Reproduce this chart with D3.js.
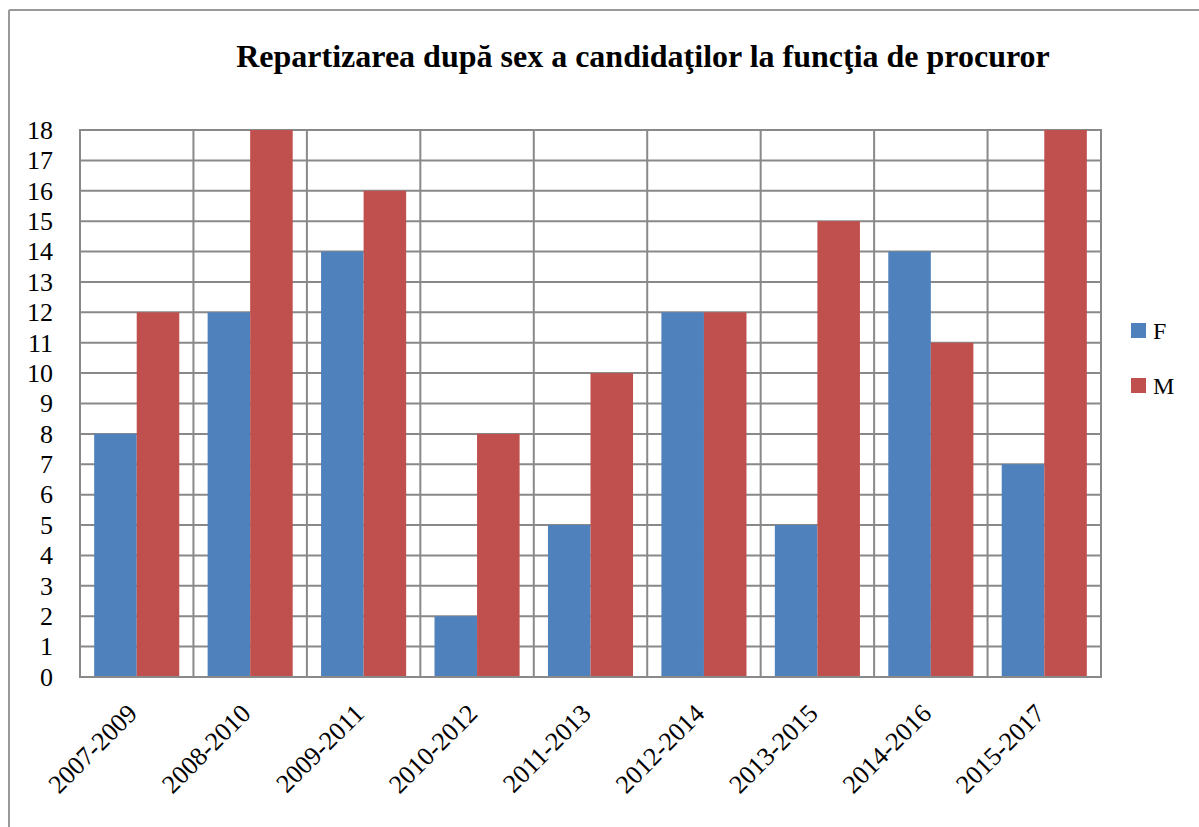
<!DOCTYPE html>
<html><head><meta charset="utf-8">
<script src="https://cdn.jsdelivr.net/npm/d3@7"></script>
<style>body{margin:0;background:#fff}</style>
</head><body>
<script>
const categories = ["2007-2009","2008-2010","2009-2011","2010-2012","2011-2013","2012-2014","2013-2015","2014-2016","2015-2017"];
const valuesF = [8,12,14,2,5,12,5,14,7];
const valuesM = [12,18,16,8,10,12,15,11,18];
const seriesNames = ["F","M"];
const colors = ["#4F81BD","#C0504D"];
const yTicks = d3.range(0,19);
const title = "Repartizarea după sex a candidaţilor la funcţia de procuror";

const W=1199,H=827;
const svg=d3.select("body").append("svg").attr("width",W).attr("height",H);
const grid="#898989";
const font="Liberation Serif";
// outer frame
svg.append("line").attr("x1",9).attr("y1",10).attr("x2",W).attr("y2",10).attr("stroke","#999").attr("stroke-width",2);
svg.append("line").attr("x1",9).attr("y1",10).attr("x2",9).attr("y2",H).attr("stroke","#999").attr("stroke-width",2);

const m={l:80,r:1101,t:130,b:677};
const x=d3.scaleBand().domain(categories).range([m.l,m.r]).paddingInner(0).paddingOuter(0);
const y=d3.scaleLinear().domain([0,18]).range([m.b,m.t]);
const bw=x.bandwidth();
const inner=d3.scaleBand().domain(seriesNames).range([bw*0.125,bw*0.875]).padding(0);

svg.append("text").attr("x",643).attr("y",67).attr("text-anchor","middle")
 .attr("font-family",font).attr("font-weight","bold").attr("font-size",32).text(title);

// horizontal gridlines
svg.append("g").selectAll("line").data(yTicks).join("line")
 .attr("x1",m.l).attr("x2",m.r).attr("y1",d=>y(d)).attr("y2",d=>y(d))
 .attr("stroke",grid).attr("stroke-width",2);
// vertical gridlines at category boundaries
const bounds=categories.map(c=>x(c)).concat([m.r]);
svg.append("g").selectAll("line").data(bounds).join("line")
 .attr("x1",d=>d).attr("x2",d=>d).attr("y1",m.t-1).attr("y2",m.b+1)
 .attr("stroke",grid).attr("stroke-width",2);

const data=categories.map((c,i)=>({c,vals:[valuesF[i],valuesM[i]]}));
const g=svg.append("g").selectAll("g").data(data).join("g").attr("transform",d=>`translate(${x(d.c)},0)`);
g.selectAll("rect").data(d=>d.vals.map((v,j)=>({v,s:seriesNames[j],j}))).join("rect")
 .attr("x",d=>inner(d.s)).attr("width",inner.bandwidth())
 .attr("y",d=>y(d.v)).attr("height",d=>y(0)-y(d.v)).attr("fill",d=>colors[d.j]);

// y axis
const ya=svg.append("g").attr("transform",`translate(${m.l},0)`)
 .call(d3.axisLeft(y).tickValues(yTicks).tickSize(0).tickPadding(27).tickFormat(d3.format("d")));
ya.select(".domain").remove();
ya.selectAll("text").attr("font-family",font).attr("font-size",26).attr("fill","#000");

// x axis labels
const xa=svg.append("g").attr("transform",`translate(0,${m.b})`)
 .call(d3.axisBottom(x).tickSize(0).tickPadding(0));
xa.select(".domain").remove();
xa.selectAll("text").attr("font-family",font).attr("font-size",26).attr("fill","#000")
 .attr("text-anchor","end").attr("dy",0).attr("transform","translate(2,38) rotate(-45)");

// bottom axis line
svg.append("line").attr("x1",m.l).attr("x2",m.r).attr("y1",m.b).attr("y2",m.b).attr("stroke",grid).attr("stroke-width",2);

// legend
const lg=svg.append("g").selectAll("g").data(seriesNames).join("g")
 .attr("transform",(d,i)=>`translate(1131,${323+i*55})`);
lg.append("rect").attr("width",15).attr("height",15).attr("fill",(d,i)=>colors[i]);
lg.append("text").attr("x",22).attr("y",16).attr("font-family",font).attr("font-size",24).text(d=>d);
</script>
</body></html>
